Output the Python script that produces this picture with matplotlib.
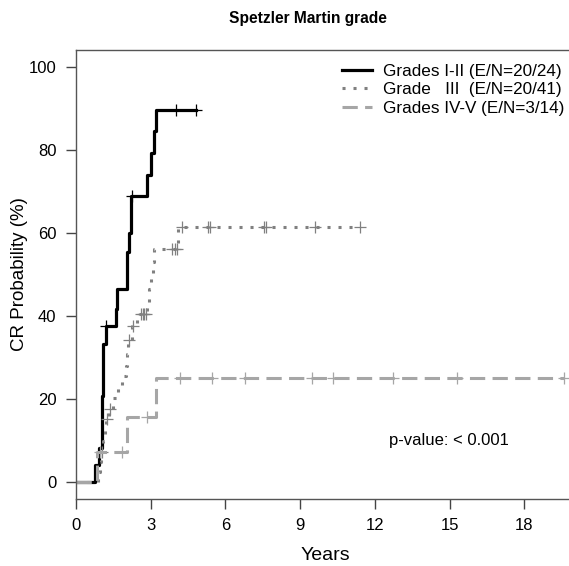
import numpy as np
import matplotlib.pyplot as plt

plt.rcParams['font.family'] = ['Liberation Sans', 'DejaVu Sans']

# cumulative CR probability (%) by Spetzler Martin grade
t_12 = [0, 0.76, 0.94, 1.03, 1.1, 1.2, 1.6, 1.66, 2.03, 2.13, 2.2, 2.86, 3.0, 3.13, 3.21]
p_12 = [0, 4.2, 8.3, 20.8, 33.3, 37.5, 41.7, 46.4, 55.4, 60.0, 68.8, 74.0, 79.2, 84.4, 89.6]
end_12 = 4.8
cens_t_12 = [1.22, 2.24, 4.0, 4.8]

t_3 = [0, 0.9, 0.98, 1.02, 1.08, 1.15, 1.2, 1.33, 1.5, 1.7, 1.85, 2.0, 2.05,
       2.1, 2.25, 2.45, 2.85, 2.93, 3.0, 3.08, 3.15, 4.1]
p_3 = [0, 2.4, 4.9, 7.4, 10.0, 12.6, 15.2, 17.7, 20.3, 22.9, 25.5, 28.1, 30.8,
       34.3, 37.5, 40.4, 43.4, 46.6, 49.8, 53.0, 56.1, 61.5]
end_3 = 11.4
cens_t_3 = [1.03, 1.23, 1.37, 2.14, 2.3, 2.6, 2.68, 2.75, 2.82, 3.84, 3.98, 4.04,
            4.27, 5.3, 5.38, 7.55, 7.65, 9.6, 11.4]

t_45 = [0, 0.83, 2.03, 3.2]
p_45 = [0, 7.2, 15.8, 25.2]
end_45 = 19.6
cens_t_45 = [0.96, 1.83, 2.84, 4.18, 5.45, 6.79, 9.47, 10.33, 12.74, 15.29, 19.6]

labels = ['Grades I-II (E/N=20/24)', 'Grade   III  (E/N=20/41)', 'Grades IV-V (E/N=3/14)']


def level_at(ts, ps, x):
    idx = np.searchsorted(ts, x, side='right') - 1
    return np.array(ps)[idx]


fig = plt.figure(figsize=(5.69, 5.66), dpi=100)
ax = fig.add_axes([76 / 569, 1 - 499 / 566, 498 / 569, 449 / 566])

groups = [
    (t_12, p_12, end_12, cens_t_12, 'black', '-', 2.3),
    (t_3, p_3, end_3, cens_t_3, '#808080', (0, (1, 2.6)), 2.2),
    (t_45, p_45, end_45, cens_t_45, '#a6a6a6', (0, (5, 2.4)), 2.2),
]
for (ts, ps, end, ct, col, ls, lw), lab in zip(groups, labels):
    xs = list(ts) + [end]
    ys = list(ps) + [ps[-1]]
    ax.step(xs, ys, where='post', color=col, linestyle=ls, lw=lw, label=lab)
    ax.plot(ct, level_at(ts, ps, ct), linestyle='none', marker='+',
            markersize=9, markeredgewidth=0.9, color=col)

ax.set_xlim(0, 20)
ax.set_ylim(-4, 104)
ax.set_xticks([0, 3, 6, 9, 12, 15, 18])
ax.set_yticks([0, 20, 40, 60, 80, 100])
ax.tick_params(direction='out', length=7, width=1, colors='#444444',
               labelcolor='black', labelsize=12, pad=7)
for s in ax.spines.values():
    s.set_color('#555555')
    s.set_linewidth(1)

ax.set_xlabel('Years', fontsize=14)
ax.xaxis.set_label_coords(0.5, (499 - 547) / 449)
ax.set_ylabel('CR Probability (%)', fontsize=13.5)
ax.yaxis.set_label_coords((28 - 76) / 498, 0.5)
fig.text(308 / 569, 1 - 19 / 566, 'Spetzler Martin grade',
         ha='center', va='center', fontsize=11.2, fontweight='bold')

ax.legend(loc='upper left', bbox_to_anchor=(0.503, 1.004), frameon=False,
          fontsize=12.3, handlelength=1.75, handletextpad=0.65, labelspacing=0.22)
ax.text(12.57, 10.1, 'p-value: < 0.001', fontsize=12, ha='left', va='center')

fig.savefig('out.png', dpi=100)
